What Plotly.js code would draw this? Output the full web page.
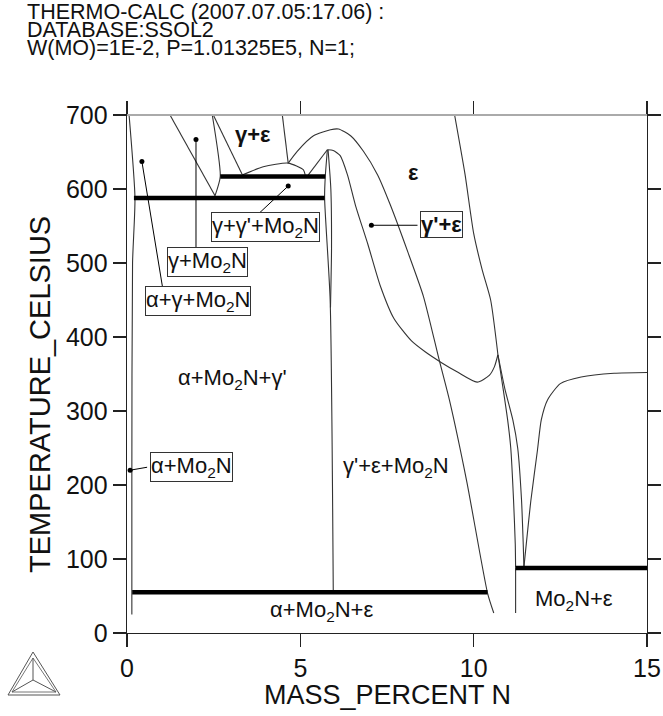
<!DOCTYPE html>
<html>
<head>
<meta charset="utf-8">
<script src="https://cdn.plot.ly/plotly-3.0.1.min.js"></script>
<style>html,body{margin:0;padding:0;background:#fff;}</style>
</head>
<body>
<div id="chart" style="width:663px;height:716px;"></div>
<script>
// ---------- Phase boundary data (MASS_PERCENT N, TEMPERATURE_CELSIUS) ----------
const alphaBoundX = [0.06, 0.23, 0.16, 0.14, 0.14];
const alphaBoundT = [700, 588, 500, 200, 25];

const diagGammaX = [1.24, 2.54];
const diagGammaT = [700, 591];

const gammaMo2NX = [2.46, 2.69, 2.54];
const gammaMo2NT = [700, 617, 591];

const gammaEpsLeftX = [2.49, 3.32];
const gammaEpsLeftT = [700, 620];

const gammaEpsBottomX = [3.32, 3.93, 4.65, 5.09, 5.14];
const gammaEpsBottomT = [619, 630, 635, 626, 619];

const gammaEpsRightX = [4.48, 4.65];
const gammaEpsRightT = [700, 635];

const peakLeftX = [5.23, 5.78];
const peakLeftT = [619, 653];

const bigArcX = [4.65, 4.91, 5.38, 5.87, 6.1, 6.45, 6.82, 7.23, 7.6, 8.1, 8.55, 9.0, 9.3, 9.8, 10.4, 10.58];
const bigArcT = [635, 651, 672, 680, 681, 672, 651, 619, 578, 515, 455, 370, 315, 205, 54, 27];

const innerCurveX = [5.78, 5.95, 6.15, 6.36, 6.59, 6.95, 7.3, 7.7, 8.2, 8.6, 9.05, 9.52, 10.1, 10.45, 10.6, 10.7];
const innerCurveT = [653, 652, 645, 619, 578, 525, 470, 425, 395, 380, 366, 353, 339, 348, 360, 376];

const gammaPrimeAX = [5.78, 5.72, 5.70, 5.86, 5.95];
const gammaPrimeAT = [653, 617, 588, 450, 55];

const gammaPrimeBX = [5.80, 5.88, 5.90, 5.87];
const gammaPrimeBT = [653, 600, 520, 440];

const epsRightX = [9.45, 9.75, 10.0, 10.25, 10.49, 10.7];
const epsRightT = [700, 620, 540, 490, 450, 376];

const mo2nLeftX = [10.7, 10.85, 10.98, 11.07, 11.15, 11.2, 11.21];
const mo2nLeftT = [376, 330, 288, 250, 180, 120, 89];

const mo2nMidX = [10.7, 10.9, 11.13, 11.27, 11.38, 11.43, 11.45];
const mo2nMidT = [376, 330, 288, 250, 180, 120, 89];

const vRightX = [11.45, 11.65, 11.84, 11.95, 12.13, 12.5, 13.1, 14.05, 15.0];
const vRightT = [89, 179, 247, 288, 315, 337, 346, 351, 352];

const mo2nLowX = [11.21, 11.21];
const mo2nLowT = [89, 27];

// invariant (thick) lines
const inv617X = [2.69, 5.72], inv617T = [617, 617];
const inv588X = [0.20, 5.70], inv588T = [588, 588];
const inv55X  = [0.15, 10.40], inv55T = [55, 55];
const inv88X  = [11.21, 15.0], inv88T = [88, 88];

// ---------- Labels ----------
const boxLabels = ['γ+γ\'+Mo<sub>2</sub>N', 'γ+Mo<sub>2</sub>N', 'α+γ+Mo<sub>2</sub>N', '<b>γ\'+ε</b>', 'α+Mo<sub>2</sub>N'];
const boxLabelX = [3.99, 2.33, 2.04, 9.08, 1.86];
const boxLabelT = [549, 502, 449, 552, 224];

const pointerDotX = [4.65, 1.99, 0.43, 7.05, 0.09];
const pointerDotT = [604, 667, 637, 551, 220];
const pointerEndX = [3.76, 1.99, 1.04, 8.38, 0.58];
const pointerEndT = [565, 520, 463, 551, 224];

const freeLabels = ['<b>γ+ε</b>', '<b>ε</b>', 'α+Mo<sub>2</sub>N+γ\'', 'γ\'+ε+Mo<sub>2</sub>N', 'α+Mo<sub>2</sub>N+ε', 'Mo<sub>2</sub>N+ε'];
const freeLabelX = [3.64, 8.27, 3.03, 7.77, 5.6, 12.9];
const freeLabelT = [673, 622, 343, 224, 30, 45];

const titleLines = ['THERMO-CALC (2007.07.05:17.06) :', 'DATABASE:SSOL2', 'W(MO)=1E-2, P=1.01325E5, N=1;'];

const xTicks = [0, 5, 10, 15];
const yTicks = [0, 100, 200, 300, 400, 500, 600, 700];

// ---------- Build ----------
const SANS = '"Liberation Sans", Arial, sans-serif';

const thin = [
  [alphaBoundX, alphaBoundT], [diagGammaX, diagGammaT], [gammaMo2NX, gammaMo2NT],
  [gammaEpsLeftX, gammaEpsLeftT], [gammaEpsBottomX, gammaEpsBottomT], [gammaEpsRightX, gammaEpsRightT],
  [peakLeftX, peakLeftT], [bigArcX, bigArcT], [innerCurveX, innerCurveT],
  [gammaPrimeAX, gammaPrimeAT], [gammaPrimeBX, gammaPrimeBT], [epsRightX, epsRightT],
  [mo2nLeftX, mo2nLeftT], [mo2nMidX, mo2nMidT], [vRightX, vRightT], [mo2nLowX, mo2nLowT]
];
const thick = [[inv617X, inv617T], [inv588X, inv588T], [inv55X, inv55T], [inv88X, inv88T]];

const traces = [];
thin.forEach(([x, y]) => traces.push({x, y, mode: 'lines', line: {color: '#333', width: 1.1, shape: 'spline', smoothing: 0.6}, hoverinfo: 'skip', showlegend: false}));
thick.forEach(([x, y]) => traces.push({x, y, mode: 'lines', line: {color: '#000', width: 4.5}, hoverinfo: 'skip', showlegend: false}));
pointerDotX.forEach((x0, i) => traces.push({x: [x0, pointerEndX[i]], y: [pointerDotT[i], pointerEndT[i]], mode: 'lines', line: {color: '#000', width: 1}, hoverinfo: 'skip', showlegend: false}));
traces.push({x: pointerDotX, y: pointerDotT, mode: 'markers', marker: {color: '#000', size: 5}, hoverinfo: 'skip', showlegend: false});

// plot area in pixels
const L = 127, R = 647, T = 115, B = 633;
const px = p => (p - L) / (R - L);
const py = p => (B - p) / (B - T);

const annotations = [];
boxLabels.forEach((t, i) => annotations.push({x: boxLabelX[i], y: boxLabelT[i], xref: 'x', yref: 'y', text: t, showarrow: false,
  xanchor: 'center', yanchor: 'middle',
  font: {family: SANS, size: 22, color: '#111'}, bgcolor: '#fff', bordercolor: '#333', borderwidth: 1, borderpad: 0}));
freeLabels.forEach((t, i) => annotations.push({x: freeLabelX[i], y: freeLabelT[i], xref: 'x', yref: 'y', text: t, showarrow: false,
  xanchor: 'center', yanchor: 'middle',
  font: {family: SANS, size: 22, color: '#111'}}));
const titleY = [12, 30, 48];
titleLines.forEach((t, i) => annotations.push({x: px(25), y: py(titleY[i]), xref: 'paper', yref: 'paper', xanchor: 'left', yanchor: 'middle',
  text: t, showarrow: false, font: {family: SANS, size: 21.5, color: '#111'}}));
annotations.push({x: px(387), y: py(695), xref: 'paper', yref: 'paper', xanchor: 'center', yanchor: 'middle', text: 'MASS_PERCENT N', showarrow: false,
  font: {family: SANS, size: 27, color: '#111'}});
annotations.push({x: px(40), y: py(395), xref: 'paper', yref: 'paper', xanchor: 'center', yanchor: 'middle', text: 'TEMPERATURE_CELSIUS', textangle: -90, showarrow: false,
  font: {family: SANS, size: 29, color: '#111'}});

// Thermo-Calc logo (paper coords from pixels)
const tri = (a, b, c) => `M${px(a[0])},${py(a[1])} L${px(b[0])},${py(b[1])} L${px(c[0])},${py(c[1])} Z`;
const cx = 33, cy = 680;
const shapes = [
  {type: 'path', xref: 'paper', yref: 'paper', path: tri([33, 652], [8, 695], [60, 695]), line: {color: '#555', width: 1}},
  {type: 'path', xref: 'paper', yref: 'paper', path: tri([33, 658], [12, 692], [56, 692]), line: {color: '#777', width: 1}},
  {type: 'path', xref: 'paper', yref: 'paper', path: `M${px(33)},${py(658)} L${px(cx)},${py(cy)} M${px(12)},${py(692)} L${px(cx)},${py(cy)} M${px(56)},${py(692)} L${px(cx)},${py(cy)}`, line: {color: '#555', width: 1}},
  {type: 'line', xref: 'paper', yref: 'paper', x0: 0, x1: 1, y0: 1, y1: 1, line: {color: '#aaa', width: 2}, layer: 'above'}
];

const axisCommon = {showgrid: false, zeroline: false, showline: true, linecolor: '#222', linewidth: 1.3, mirror: 'ticks',
  ticks: 'outside', ticklen: 13, tickwidth: 1.3, tickcolor: '#222', tickfont: {family: SANS, size: 25, color: '#111'}};

const layout = {
  width: 663, height: 716,
  margin: {l: L, r: 663 - R, t: T, b: 716 - B, pad: 0},
  paper_bgcolor: '#fff', plot_bgcolor: '#fff',
  xaxis: Object.assign({}, axisCommon, {range: [0, 15], tickvals: xTicks, ticktext: xTicks.map(String)}),
  yaxis: Object.assign({}, axisCommon, {range: [0, 700], tickvals: yTicks, ticktext: yTicks.map(String)}),
  annotations, shapes, showlegend: false
};

Plotly.newPlot('chart', traces, layout, {staticPlot: true, displayModeBar: false});
</script>
</body>
</html>
